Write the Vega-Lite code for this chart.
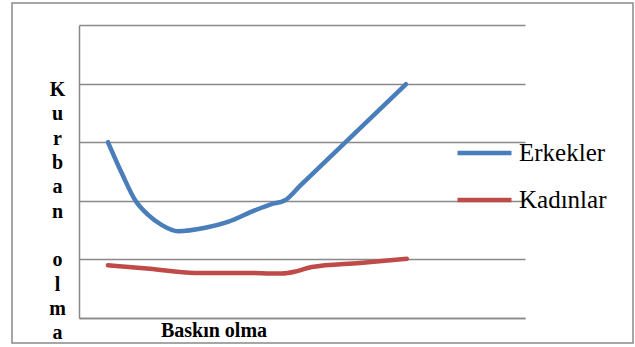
{
  "$schema": "https://vega.github.io/schema/vega-lite/v6.json",
  "autosize": {"type": "none"},
  "width": 621,
  "height": 340,
  "padding": {"left": 12, "top": 3, "right": 2, "bottom": 4},
  "background": "white",
  "config": {
    "view": {"stroke": "#898989", "strokeWidth": 1.5},
    "font": "Liberation Serif"
  },
  "data": {
    "values": [
      {"baskin": 0.65, "kurban": 3.00, "grup": "Erkekler"},
      {"baskin": 0.96, "kurban": 2.47, "grup": "Erkekler"},
      {"baskin": 1.26, "kurban": 2.01, "grup": "Erkekler"},
      {"baskin": 1.55, "kurban": 1.76, "grup": "Erkekler"},
      {"baskin": 1.85, "kurban": 1.59, "grup": "Erkekler"},
      {"baskin": 2.22, "kurban": 1.48, "grup": "Erkekler"},
      {"baskin": 2.83, "kurban": 1.54, "grup": "Erkekler"},
      {"baskin": 3.34, "kurban": 1.64, "grup": "Erkekler"},
      {"baskin": 3.95, "kurban": 1.84, "grup": "Erkekler"},
      {"baskin": 4.30, "kurban": 1.94, "grup": "Erkekler"},
      {"baskin": 4.62, "kurban": 2.01, "grup": "Erkekler"},
      {"baskin": 4.96, "kurban": 2.26, "grup": "Erkekler"},
      {"baskin": 7.33, "kurban": 3.99, "grup": "Erkekler"},
      {"baskin": 0.65, "kurban": 0.90, "grup": "Kadınlar"},
      {"baskin": 1.59, "kurban": 0.84, "grup": "Kadınlar"},
      {"baskin": 2.60, "kurban": 0.77, "grup": "Kadınlar"},
      {"baskin": 3.61, "kurban": 0.77, "grup": "Kadınlar"},
      {"baskin": 4.55, "kurban": 0.76, "grup": "Kadınlar"},
      {"baskin": 4.89, "kurban": 0.80, "grup": "Kadınlar"},
      {"baskin": 5.22, "kurban": 0.87, "grup": "Kadınlar"},
      {"baskin": 6.30, "kurban": 0.94, "grup": "Kadınlar"},
      {"baskin": 7.35, "kurban": 1.01, "grup": "Kadınlar"}
    ]
  },
  "mark": {"type": "line", "interpolate": "monotone", "strokeWidth": 4.5, "strokeCap": "round", "strokeJoin": "round"},
  "encoding": {
    "x": {
      "field": "baskin",
      "type": "quantitative",
      "scale": {"domain": [0, 10], "range": [67, 513], "nice": false, "zero": false},
      "axis": {
        "title": "Baskın olma",
        "titleFont": "Liberation Serif",
        "titleFontSize": 20,
        "titleFontWeight": "bold",
        "titleColor": "black",
        "titleX": 201.5,
        "titleY": 18.7,
        "titleAlign": "center",
        "titleBaseline": "alphabetic",
        "offset": -25,
        "grid": false,
        "ticks": false,
        "labels": false,
        "domainColor": "#898989",
        "domainWidth": 1.5
      }
    },
    "y": {
      "field": "kurban",
      "type": "quantitative",
      "scale": {"domain": [0, 5], "range": [315, 22], "nice": false, "zero": false},
      "axis": {
        "title": ["K", "u", "r", "b", "a", "n", "\u2800", "o", "l", "m", "a"],
        "titleFont": "Liberation Serif",
        "titleFontSize": 20,
        "titleFontWeight": "bold",
        "titleColor": "black",
        "titleAngle": 0,
        "titleAlign": "center",
        "titleBaseline": "alphabetic",
        "titleLineHeight": 24.3,
        "titleX": -22,
        "titleY": 92.7,
        "offset": -67,
        "values": [0, 1, 2, 3, 4, 5],
        "grid": true,
        "gridColor": "#898989",
        "gridWidth": 1.5,
        "ticks": false,
        "labels": false,
        "domainColor": "#898989",
        "domainWidth": 1.5
      }
    },
    "color": {
      "field": "grup",
      "type": "nominal",
      "scale": {"domain": ["Erkekler", "Kadınlar"], "range": ["#4A7EBB", "#BE4B48"]},
      "legend": {
        "title": null,
        "orient": "none",
        "legendX": 443,
        "legendY": 120.5,
        "symbolType": "stroke",
        "symbolSize": 2916,
        "symbolStrokeWidth": 4.5,
        "labelFont": "Liberation Serif",
        "labelFontSize": 25,
        "labelColor": "black",
        "labelOffset": 5,
        "rowPadding": 4,
        "labelLimit": 200
      }
    }
  }
}
